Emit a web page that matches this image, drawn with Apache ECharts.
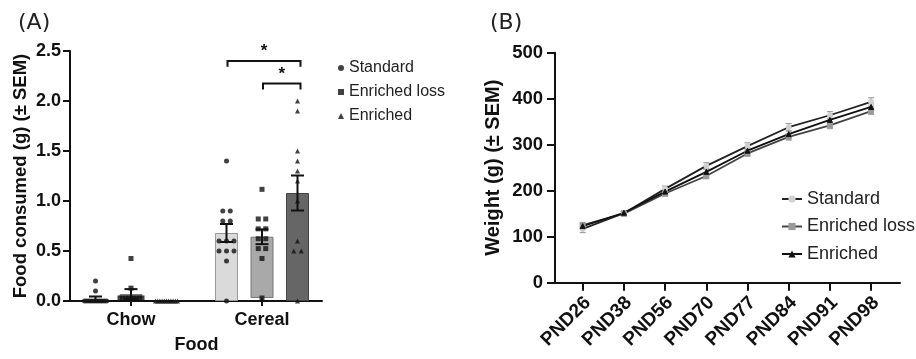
<!DOCTYPE html>
<html><head><meta charset="utf-8">
<script src="https://cdn.jsdelivr.net/npm/echarts@6/dist/echarts.min.js"></script>
<style>html,body{margin:0;padding:0;background:#fff}#c{width:916px;height:359px}</style>
</head><body><div id="c"></div>
<script>
// ---------- Panel A data ----------
const foodCategories = ['Chow', 'Cereal'];
const groupNames = ['Standard', 'Enriched loss', 'Enriched'];
const meanStandard = [0.02, 0.68];
const meanEnrLoss = [0.04, 0.62];
const meanEnriched = [0.0, 1.08];
const semStandard = [0.025, 0.09];
const semEnrLoss = [0.05, 0.075];
const semEnriched = [0.0, 0.175];
const ptsStandardChow = [0.2, 0.1, 0, 0, 0, 0, 0, 0, 0, 0, 0, 0];
const ptsEnrLossChow = [0.4, 0.1, 0, 0, 0, 0, 0, 0, 0, 0, 0];
const ptsEnrichedChow = [0, 0, 0, 0, 0, 0, 0, 0, 0, 0, 0];
const ptsStandardCereal = [1.4, 0.9, 0.9, 0.8, 0.8, 0.6, 0.6, 0.6, 0.5, 0.5, 0.5, 0.4, 0];
const ptsEnrLossCereal = [1.1, 0.8, 0.8, 0.7, 0.7, 0.6, 0.6, 0.5, 0.5, 0.4, 0];
const ptsEnrichedCereal = [2.0, 1.9, 1.5, 1.4, 1.3, 1.2, 1.0, 0.6, 0.5, 0.5, 0];
const yTicksA = [0, 0.5, 1.0, 1.5, 2.0, 2.5];
const sigBrackets = [
  {cat: 1, from: 0, to: 2, y: 2.40, label: '*'},
  {cat: 1, from: 1, to: 2, y: 2.17, label: '*'}
];

// ---------- Panel B data ----------
const pndLabels = ['PND26', 'PND38', 'PND56', 'PND70', 'PND77', 'PND84', 'PND91', 'PND98'];
const weightStandard = [117, 151, 204, 254, 297, 338, 364, 393];
const weightEnrLoss = [125, 150, 194, 232, 281, 317, 342, 373];
const weightEnriched = [123, 152, 198, 241, 287, 323, 354, 382];
const semWStandard = [8, 5, 6, 7, 7, 8, 8, 9];
const semWEnrLoss = [6, 5, 6, 6, 6, 7, 7, 7];
const semWEnriched = [6, 4, 5, 6, 6, 7, 7, 7];
const yTicksB = [0, 100, 200, 300, 400, 500];

// ---------- layout/style ----------
const FONT = '"Liberation Sans", Arial, sans-serif';
const SHIFT = 35.5;          // distance between bar centres inside a group
const BAND = 131;            // category width panel A
const A_TOP = 51, A_H = 250, A_AXIS_L = 70, A_AXIS_W = 252;
const A_MID_L = 65.5;
const B_TOP = 52.7, B_H = 230, B_AXIS_L = 555, B_AXIS_W = 345;
const B_STEP = 41.2, B_FIRST = 582.7;
const barFill = ['#dadada', '#a9a9a9', '#666666'];
const barBorder = ['#9a9a9a', '#777777', '#444444'];
const symA = ['circle', 'rect', 'triangle'];
const W = 916, H = 359;

function gridBox(left, width, top, height) {
  return {left: left, top: top, width: width, height: height, containLabel: false};
}

const grids = [
  gridBox(A_AXIS_L, A_AXIS_W, A_TOP, A_H),
  gridBox(A_MID_L - SHIFT, 2 * BAND, A_TOP, A_H),
  gridBox(A_MID_L, 2 * BAND, A_TOP, A_H),
  gridBox(A_MID_L + SHIFT, 2 * BAND, A_TOP, A_H),
  gridBox(B_AXIS_L, B_AXIS_W, B_TOP, B_H),
  gridBox(B_FIRST - B_STEP / 2, B_STEP * pndLabels.length, B_TOP, B_H)
];

const boldLabel = (size) => ({fontFamily: FONT, fontWeight: 'bold', fontSize: size, color: '#111'});
const blackLine = {lineStyle: {color: '#111', width: 2}};

const xAxes = [
  {gridIndex: 0, type: 'value', min: 0, max: 1, axisLine: {show: true, onZero: false, ...blackLine}, axisTick: {show: false}, axisLabel: {show: false}, splitLine: {show: false}},
  {gridIndex: 1, type: 'category', data: foodCategories, show: false},
  {gridIndex: 2, type: 'category', data: foodCategories, axisLine: {show: false},
    axisTick: {show: true, alignWithLabel: true, length: 8, lineStyle: {color: '#111', width: 2}},
    axisLabel: {...boldLabel(18), margin: 13},
    name: 'Food', nameLocation: 'middle', nameGap: 38, nameTextStyle: boldLabel(18)},
  {gridIndex: 3, type: 'category', data: foodCategories, show: false},
  {gridIndex: 4, type: 'value', min: 0, max: 1, axisLine: {show: true, onZero: false, ...blackLine}, axisTick: {show: false}, axisLabel: {show: false}, splitLine: {show: false}},
  {gridIndex: 5, type: 'category', data: pndLabels, axisLine: {show: false},
    axisTick: {show: true, alignWithLabel: true, length: 8, lineStyle: {color: '#111', width: 2}},
    axisLabel: {...boldLabel(19), rotate: 45, margin: 22, padding: [0, -7, 0, 0]}}
];

const yAxisA = {
  gridIndex: 0, type: 'value', min: yTicksA[0], max: yTicksA[yTicksA.length - 1], interval: 0.5,
  axisLine: {show: true, ...blackLine}, axisTick: {show: true, length: 7, lineStyle: {color: '#111', width: 2}},
  axisLabel: {...boldLabel(18), margin: 9, formatter: v => v.toFixed(1)}, splitLine: {show: false},
  name: 'Food consumed (g) (± SEM)', nameLocation: 'middle', nameGap: 40, nameTextStyle: boldLabel(18.5)
};
const hiddenY = (gi, min, max) => ({gridIndex: gi, type: 'value', min: min, max: max, show: false, splitLine: {show: false}});
const yAxisB = {
  gridIndex: 4, type: 'value', min: yTicksB[0], max: yTicksB[yTicksB.length - 1], interval: 100,
  axisLine: {show: true, ...blackLine}, axisTick: {show: true, length: 8, lineStyle: {color: '#111', width: 2}},
  axisLabel: {...boldLabel(18.5), margin: 12}, splitLine: {show: false},
  name: 'Weight (g) (± SEM)', nameLocation: 'middle', nameGap: 52, nameTextStyle: boldLabel(20)
};
const yAxes = [yAxisA, hiddenY(1, 0, 2.5), hiddenY(2, 0, 2.5), hiddenY(3, 0, 2.5), yAxisB, hiddenY(5, 0, 500)];

// ---------- series: panel A ----------
const means = [meanStandard, meanEnrLoss, meanEnriched];
const sems = [semStandard, semEnrLoss, semEnriched];
const pts = [[ptsStandardChow, ptsStandardCereal], [ptsEnrLossChow, ptsEnrLossCereal], [ptsEnrichedChow, ptsEnrichedCereal]];

function jitter(catIdx, values) {
  const counts = {}, seen = {};
  values.forEach(v => counts[v] = (counts[v] || 0) + 1);
  return values.map(v => {
    const n = counts[v]; const k = (seen[v] = (seen[v] || 0) + 1) - 1;
    const step = n > 1 ? Math.min(7.5, 22 / (n - 1)) : 0;
    return {value: [catIdx, v], symbolOffset: [(k - (n - 1) / 2) * step, 0]};
  });
}

function errorBarRender(color, lw, cap) {
  return function (params, api) {
    const x = api.value(0), m = api.value(1), s = api.value(2);
    const t = api.coord([x, m + s]), b = api.coord([x, m - s]);
    const st = {stroke: color, lineWidth: lw};
    return {type: 'group', children: [
      {type: 'line', shape: {x1: t[0], y1: t[1], x2: b[0], y2: b[1]}, style: st},
      {type: 'line', shape: {x1: t[0] - cap, y1: t[1], x2: t[0] + cap, y2: t[1]}, style: st},
      {type: 'line', shape: {x1: b[0] - cap, y1: b[1], x2: b[0] + cap, y2: b[1]}, style: st}
    ]};
  };
}

const series = [];
groupNames.forEach((name, i) => {
  const gi = i + 1;
  series.push({
    name: name + ' bar', type: 'bar', xAxisIndex: gi, yAxisIndex: gi, barWidth: 23,
    data: means[i], itemStyle: {color: barFill[i], borderColor: barBorder[i], borderWidth: 1}, z: 1, silent: true
  });
  series.push({
    name: name, type: 'scatter', xAxisIndex: gi, yAxisIndex: gi, symbol: symA[i], symbolSize: 5,
    itemStyle: {color: '#111'}, z: 3,
    data: jitter(0, pts[i][0]).concat(jitter(1, pts[i][1]))
  });
  series.push({
    name: name + ' sem', type: 'custom', xAxisIndex: gi, yAxisIndex: gi, z: 4,
    renderItem: errorBarRender('#111', 2, 6.5),
    data: means[i].map((m, c) => [c, m, sems[i][c]])
  });
});

series.push({
  name: 'significance', type: 'custom', xAxisIndex: 2, yAxisIndex: 2, z: 5,
  renderItem: function (params, api) {
    const br = sigBrackets[params.dataIndex];
    const p = api.coord([br.cat, br.y]);
    const drop = api.size([0, 0.06])[1];
    const x1 = p[0] + (br.from - 1) * SHIFT + 1, x2 = p[0] + (br.to - 1) * SHIFT + 3;
    const st = {stroke: '#111', lineWidth: 2, fill: null};
    return {type: 'group', children: [
      {type: 'polyline', shape: {points: [[x1, p[1] + drop], [x1, p[1]], [x2, p[1]], [x2, p[1] + drop]]}, style: st},
      {type: 'text', style: {text: br.label, x: (x1 + x2) / 2, y: p[1] - 1, textAlign: 'center', textVerticalAlign: 'bottom',
        font: 'bold 17px ' + FONT, fill: '#111'}}
    ]};
  },
  data: sigBrackets.map(b => [b.cat, b.y])
});

// ---------- series: panel B ----------
const weights = [weightStandard, weightEnrLoss, weightEnriched];
const semW = [semWStandard, semWEnrLoss, semWEnriched];
const symB = ['circle', 'rect', 'triangle'];
const symColB = ['#d0d0d0', '#9a9a9a', '#111'];
const lineColB = ['#222', '#444', '#111'];
groupNames.forEach((name, i) => {
  series.push({
    name: name + ' ', type: 'line', xAxisIndex: 5, yAxisIndex: 5, data: weights[i],
    symbol: symB[i], symbolSize: 5, showSymbol: true,
    lineStyle: {color: lineColB[i], width: 1.8},
    itemStyle: {color: symColB[i], borderColor: symColB[i]}, z: 3
  });
  series.push({
    name: name + ' semB', type: 'custom', xAxisIndex: 5, yAxisIndex: 5, z: 2,
    renderItem: errorBarRender('#a0a0a0', 1.2, 3),
    data: weights[i].map((w, k) => [k, w, semW[i][k]])
  });
});

const option = {
  animation: false,
  backgroundColor: '#fff',
  title: [
    {text: '(A)', left: 13, top: 7, textStyle: {fontFamily: '"DejaVu Sans", sans-serif', fontWeight: 'normal', fontSize: 22, color: '#222'}},
    {text: '(B)', left: 485, top: 7, textStyle: {fontFamily: '"DejaVu Sans", sans-serif', fontWeight: 'normal', fontSize: 22, color: '#222'}}
  ],
  legend: [
    {orient: 'vertical', left: 333, top: 55, itemWidth: 6, itemHeight: 6, itemGap: 8,
      textStyle: {fontFamily: FONT, fontSize: 16, color: '#222'},
      data: groupNames.map((n, i) => ({name: n, icon: symA[i], itemStyle: {color: '#111'}}))},
    {orient: 'vertical', left: 776, top: 185, itemWidth: 20, itemHeight: 9, itemGap: 9.5,
      textStyle: {fontFamily: FONT, fontSize: 18, color: '#222'},
      formatter: n => n.trim(),
      data: groupNames.map(n => n + ' ')}
  ],
  grid: grids,
  xAxis: xAxes,
  yAxis: yAxes,
  series: series
};

const chart = echarts.init(document.getElementById('c'), null, {renderer: 'canvas', width: W, height: H});
chart.setOption(option);
</script>
</body></html>
